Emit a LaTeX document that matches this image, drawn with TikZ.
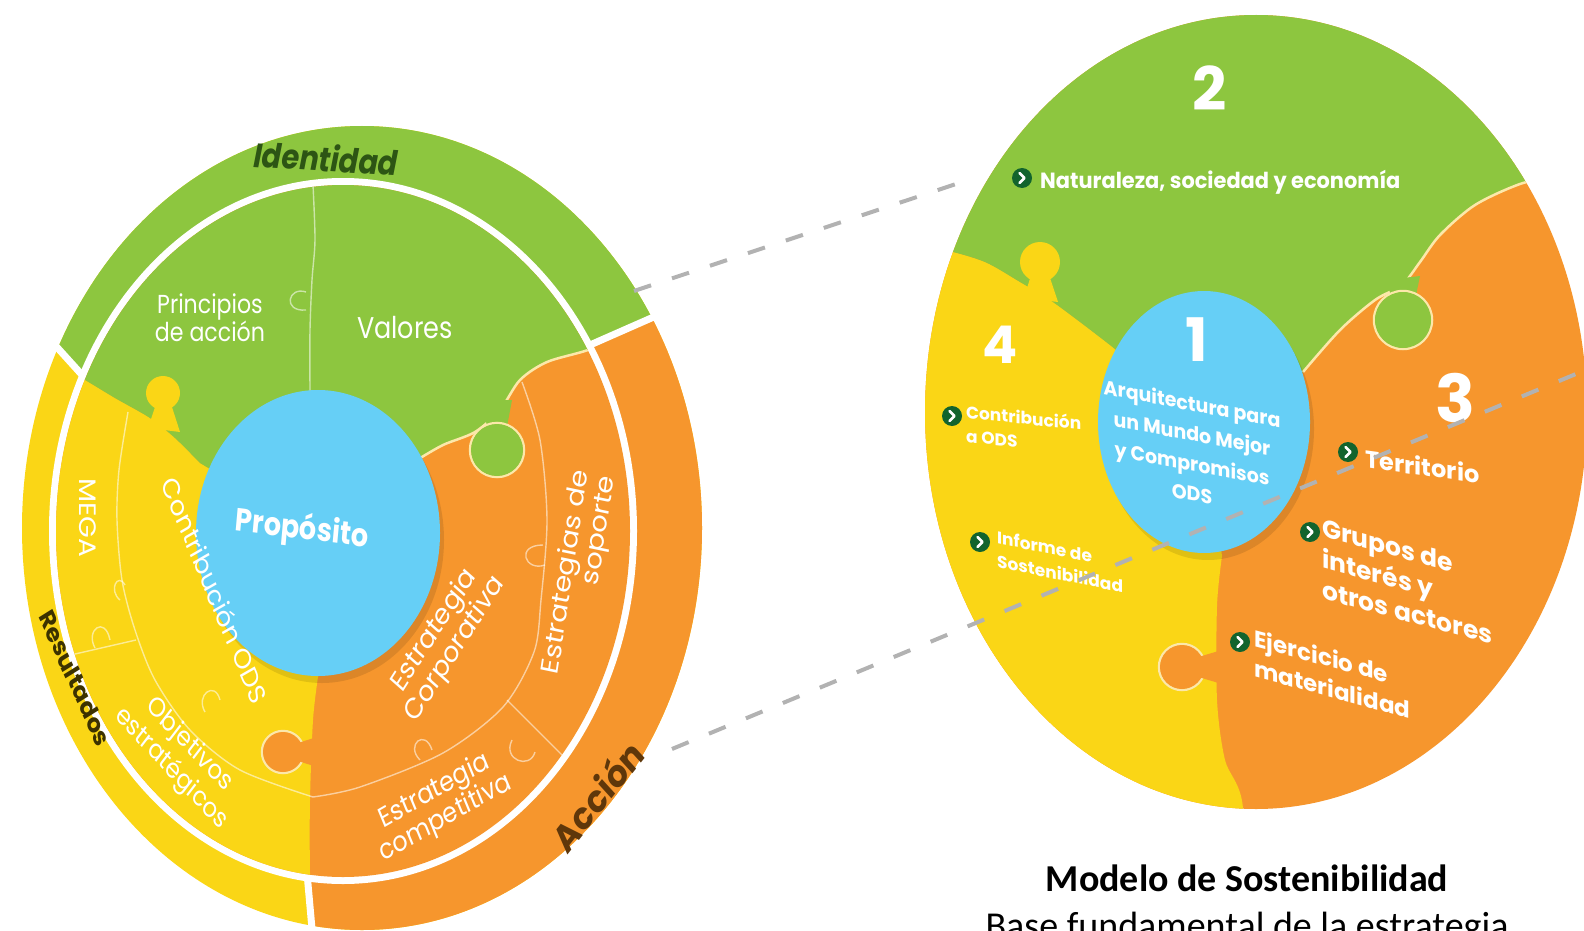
\documentclass[tikz,border=0pt]{standalone}
\usepackage{fontspec}
\setmainfont{Poppins}
\newfontfamily\capfont{Carlito}
\newcommand{\fsz}[2]{\fontsize{#1}{#2}\selectfont}
\definecolor{lgreen}{RGB}{141,198,63}
\definecolor{lyellow}{RGB}{250,214,22}
\definecolor{lorange}{RGB}{246,150,45}
\definecolor{lblue}{RGB}{102,207,246}
\definecolor{bgreen}{RGB}{18,100,45}
\definecolor{dgreen}{RGB}{45,85,20}
\definecolor{dbrown}{RGB}{95,55,10}
\definecolor{dolive}{RGB}{60,50,0}
\definecolor{dashgray}{RGB}{178,178,178}
\definecolor{cream}{RGB}{252,232,170}
\begin{document}
\begin{tikzpicture}[x=1pt,y=-1pt,
  lt/.style={text=white, xscale=0.85, inner sep=0pt, align=center},
  rt/.style={text=white, inner sep=0pt},
  thinline/.style={draw=white, draw opacity=0.55, line width=1.4pt},
  dashline/.style={draw=dashgray, line width=4pt, dash pattern=on 18pt off 22pt},
  bulletnode/.style={circle, fill=bgreen, minimum size=20pt, inner sep=0pt,
    path picture={\draw[white, line width=2.6pt, line cap=round, line join=round]
      ([xshift=-2.5pt,yshift=5pt]path picture bounding box.center) --
      ([xshift=2.5pt]path picture bounding box.center) --
      ([xshift=-2.5pt,yshift=-5pt]path picture bounding box.center);}}
]
\useasboundingbox (0,0) rectangle (1584,931);
\clip (0,0) rectangle (1584,931);

% ================= LEFT DISC =================
\begin{scope}
\clip (362,528) ellipse [x radius=340, y radius=402];
\fill[lyellow] (0,0) rectangle (800,950);
\fill[lgreen] (83,375) -- (20,305) -- (0,0) -- (760,0) -- (760,270) -- (590,345) -- (343,531) -- cycle;
\fill[lorange] (590,345) -- (760,270) -- (760,950) -- (312,950) -- (307,873) -- (343,531) -- cycle;
\end{scope}
\draw[white, line width=7pt] (83,376) -- (45,334);
\draw[white, line width=7pt] (590,345) -- (665,312);
\draw[white, line width=7pt] (307,873) -- (313,940);
\fill[white] (343,531) ellipse [x radius=294, y radius=353];

\begin{scope}
\clip (343,531) ellipse [x radius=287, y radius=346];
\fill[lorange] (0,0) rectangle (800,950);
% yellow
\fill[lyellow] (318,533) -- (200,463)
  -- plot[smooth] coordinates {(200,463) (175,438) (150,418) (115,398) (80,377) (40,355)}
  -- (0,355) -- (0,1000) -- (313,1000)
  -- plot[smooth] coordinates {(313,1000) (310,873) (310,800) (313,720) (318,677)} -- cycle;
% green
\fill[lgreen] (318,533) -- (200,463)
  -- plot[smooth] coordinates {(200,463) (175,438) (150,418) (115,398) (80,377) (40,355)}
  -- (0,300) -- (0,0) -- (700,0) -- (700,310)
  -- plot[smooth] coordinates {(640,330) (588,350) (547,362) (520,380) (500,410) (475,432) (443,445) (417,460)} -- cycle;
\draw[cream, line width=2.5pt] plot[smooth] coordinates {(640,330) (588,350) (547,362) (520,380) (500,410) (475,432) (443,445) (417,460)};
% green knob into orange
\fill[lgreen] (482,400) -- (512,400) -- (506,432) -- (488,432) -- cycle;
\draw[cream, line width=2.5pt] (497,450) circle[radius=27];
\fill[lgreen] (497,450) circle[radius=26];
% yellow knob into green
\fill[lyellow] (148,428) -- (156,404) -- (171,404) -- (180,432) -- cycle;
\fill[lyellow] (163,393) circle[radius=17];
% orange knob into yellow
\draw[cream, line width=2.5pt] (283,752) circle[radius=21];
\fill[lorange] (320,736) -- (295,744) -- (295,760) -- (320,768) -- cycle;
\fill[lorange] (283,752) circle[radius=20];
% thin lines
\draw[thinline] plot[smooth] coordinates {(313,185) (315,240) (312,280) (310,330) (310,392)};
\draw[thinline] (306,292) .. controls (288,286) and (282,312) .. (306,310);
\draw[thinline] plot[smooth] coordinates {(128,412) (119,470) (117,520) (122,580) (135,630) (155,680) (190,730) (240,770) (313,797)};
\draw[thinline] (62,657) -- (136,640);
\draw[thinline] (95,648) .. controls (85,630) and (105,615) .. (110,640);
\draw[thinline] (120,600) .. controls (108,590) and (118,572) .. (125,585);
\draw[thinline] plot[smooth] coordinates {(522,382) (540,440) (547,520) (541,600) (534,652) (503,707) (443,753) (360,787) (313,797)};
\draw[thinline] (507,700) -- (575,768);
\draw[thinline] (545,565) .. controls (525,572) and (515,545) .. (543,545);
\draw[thinline] (512,740) .. controls (502,760) and (530,770) .. (535,752);
\draw[thinline] (420,760) .. controls (405,745) and (425,728) .. (432,750);
\draw[thinline] (205,712) .. controls (195,695) and (215,680) .. (220,700);
\end{scope}
% blue centre
\fill[black, opacity=0.10] (322,540) ellipse [x radius=122, y radius=143];
\fill[lblue] (318,533) ellipse [x radius=122, y radius=143];

% left disc texts
\node[lt, font=\fsz{26}{28}] (principios) at (210,318) {Principios\\de acción};
\node[lt, font=\fsz{30}{32}] (valores) at (405,328) {Valores};
\node[lt, font=\bfseries\fsz{32}{34}, rotate=-6] (proposito) at (302,530) {Propósito};
\node[lt, font=\fsz{28}{30}, rotate=-90] (mega) at (88,518) {MEGA};
\node[lt, font=\fsz{28}{30}, rotate=-64] (contrib) at (215,590) {Contribución ODS};
\node[lt, font=\fsz{27}{32}, rotate=-42] (objetivos) at (180,757) {Objetivos\\estratégicos};
\node[lt, font=\fsz{29}{31}, rotate=53] (corp) at (445,640) {Estrategia\\Corporativa};
\node[lt, font=\fsz{29}{31}, rotate=80, align=right] (soporte) at (580,575) {Estrategias de\\soporte};
\node[lt, font=\fsz{28}{30}, rotate=26] (compet) at (440,805) {Estrategia\\competitiva};
\node[lt, text=dgreen, font=\bfseries\itshape\fsz{34}{36}, rotate=-3] (identidad) at (326,158) {Identidad};
\node[lt, text=dolive, font=\bfseries\fsz{26}{28}, rotate=-62] (resultados) at (75,678) {Resultados};
\node[lt, text=dbrown, font=\bfseries\fsz{38}{40}, rotate=47] (accion) at (597,795) {Acción};

% upper dashed connector
\coordinate (ua) at (634,291);
\coordinate (ub) at (968,180);
\draw[dashline] (ua) -- (ub);

% ================= RIGHT DISC =================
\begin{scope}
\clip (1256,412) ellipse [x radius=331, y radius=397];
\fill[lorange] (880,0) rectangle (1620,950);
\fill[lyellow] (1204,422) -- (1110,345)
  -- plot[smooth] coordinates {(1110,345) (1080,322) (1050,300) (1020,282) (985,262) (945,250) (900,242)}
  -- (880,242) -- (880,950) -- (1243,950)
  -- plot[smooth] coordinates {(1243,950) (1243,808) (1225,760) (1217,700) (1217,606) (1222,556)} -- cycle;
\fill[lgreen] (1204,422) -- (1110,345)
  -- plot[smooth] coordinates {(1110,345) (1080,322) (1050,300) (1020,282) (985,262) (945,250) (900,242)}
  -- (880,242) -- (880,-10) -- (1620,-10) -- (1620,170)
  -- plot[smooth] coordinates {(1560,175) (1520,184) (1475,205) (1440,235) (1420,262) (1402,285) (1375,300) (1340,330) (1303,372)} -- cycle;
\draw[cream, line width=2.5pt] plot[smooth] coordinates {(1560,175) (1520,184) (1475,205) (1440,235) (1420,262) (1402,285) (1375,300) (1340,330) (1303,372)};
% green knob
\fill[lgreen] (1386,280) -- (1420,276) -- (1414,305) -- (1394,305) -- cycle;
\draw[cream, line width=2.5pt] (1403,320) circle[radius=29];
\fill[lgreen] (1403,320) circle[radius=28];
% yellow knob
\fill[lyellow] (1024,298) -- (1032,272) -- (1048,272) -- (1058,302) -- cycle;
\fill[lyellow] (1040,262) circle[radius=20];
% orange knob
\draw[cream, line width=2.5pt] (1182,667) circle[radius=23];
\fill[lorange] (1222,650) -- (1195,658) -- (1195,676) -- (1222,684) -- cycle;
\fill[lorange] (1182,667) circle[radius=22];
\end{scope}
\fill[black, opacity=0.10] (1208,429) ellipse [x radius=106, y radius=131];
\fill[lblue] (1204,422) ellipse [x radius=106, y radius=131];

% right disc texts
\node[rt, font=\bfseries\fsz{60}{60}] (n2) at (1210,88) {2};
\node[rt, font=\bfseries\fsz{52}{52}] (n4) at (1000,345) {4};
\node[rt, font=\bfseries\fsz{60}{60}] (n1) at (1197,340) {1};
\node[rt, font=\bfseries\fsz{66}{66}] (n3) at (1455,398) {3};
\node[rt, align=center, font=\bfseries\fsz{20}{30}, xscale=0.95, yslant=-0.18] (arq) at (1192,448) {Arquitectura para\\un Mundo Mejor\\y Compromisos\\ODS};

\node[bulletnode] (bn) at (1022,178) {};
\node[rt, anchor=west, font=\bfseries\fsz{22}{24}, xscale=0.95] (natur) at (1040,182) {Naturaleza, sociedad y economía};
\node[bulletnode] (bc) at (952,416) {};
\node[rt, anchor=north west, align=left, font=\bfseries\fsz{17}{24}, yslant=-0.1] (contrib2) at (966,404) {Contribución\\a ODS};
\node[bulletnode] (bi) at (980,542) {};
\node[rt, anchor=north west, align=left, font=\bfseries\fsz{17}{24}, yslant=-0.2] (informe) at (997,530) {Informe de\\Sostenibilidad};
\node[bulletnode] (bt) at (1348,452) {};
\node[rt, anchor=west, font=\bfseries\fsz{24}{26}, yslant=-0.14] (territorio) at (1365,458) {Territorio};
\node[bulletnode] (bg) at (1310,532) {};
\node[rt, anchor=north west, align=left, font=\bfseries\fsz{25}{31}, yslant=-0.27] (grupos) at (1322,518) {Grupos de\\interés y\\otros actores};
\node[bulletnode] (be) at (1240,642) {};
\node[rt, anchor=north west, align=left, font=\bfseries\fsz{23}{30}, yslant=-0.27] (ejercicio) at (1254,628) {Ejercicio de\\materialidad};

% lower dashed connector
\coordinate (la) at (672,749);
\coordinate (lb) at (1600,364);
\draw[dashline] (la) -- (lb);

% caption
\node[font=\capfont\bfseries\fsz{38}{46}, anchor=base, inner sep=0pt] (cap1) at (1247,891) {Modelo de Sostenibilidad};
\node[font=\capfont\fsz{38}{46}, anchor=base, inner sep=0pt] (cap2) at (1247,938) {Base fundamental de la estrategia};
\end{tikzpicture}
\end{document}
